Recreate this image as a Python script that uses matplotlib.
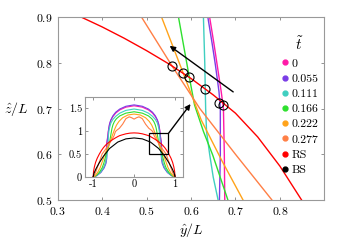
import numpy as np
import matplotlib; matplotlib.use("Agg"); import matplotlib.pyplot as plt
from matplotlib.lines import Line2D
from matplotlib.patches import Rectangle

plt.rcParams.update({"font.family": "serif", "font.serif": ["cmr10"], "mathtext.fontset": "cm",
                     "axes.formatter.use_mathtext": True, "axes.unicode_minus": False})

# right-half profiles (y/L, z/L)
t_labels = ["0", "0.055", "0.111", "0.166", "0.222", "0.277"]
t_colors = ["#ff1aa8", "#7a3ce6", "#3fcfc0", "#2ee02e", "#ffa31a", "#ff7f45"]
y_t0 = [0, 0.2, 0.35, 0.45, 0.52, 0.57, 0.60, 0.62, 0.633, 0.642, 0.652, 0.659, 0.668, 0.673, 0.675, 0.676, 0.68, 0.70, 0.74, 0.82, 0.92, 1.0]
z_t0 = [1.55, 1.52, 1.46, 1.39, 1.31, 1.23, 1.15, 1.06, 0.98, 0.90, 0.84, 0.795, 0.737, 0.70, 0.60, 0.50, 0.40, 0.30, 0.20, 0.10, 0.03, 0]
y_t1 = [0, 0.2, 0.35, 0.45, 0.52, 0.57, 0.60, 0.617, 0.630, 0.638, 0.648, 0.655, 0.663, 0.666, 0.666, 0.664, 0.668, 0.685, 0.73, 0.81, 0.91, 1.0]
z_t1 = [1.57, 1.54, 1.48, 1.41, 1.33, 1.24, 1.15, 1.06, 0.98, 0.90, 0.84, 0.795, 0.737, 0.70, 0.60, 0.50, 0.40, 0.30, 0.20, 0.10, 0.03, 0]
y_t2 = [0, 0.2, 0.35, 0.45, 0.52, 0.565, 0.595, 0.615, 0.628, 0.631, 0.633, 0.635, 0.642, 0.650, 0.661, 0.675, 0.70, 0.745, 0.82, 0.92, 1.0]
z_t2 = [1.48, 1.45, 1.39, 1.32, 1.25, 1.18, 1.09, 1.00, 0.90, 0.80, 0.70, 0.65, 0.60, 0.55, 0.50, 0.40, 0.30, 0.20, 0.10, 0.03, 0]
y_t3 = [0, 0.2, 0.35, 0.43, 0.48, 0.515, 0.54, 0.556, 0.572, 0.596, 0.608, 0.628, 0.649, 0.683, 0.71, 0.74, 0.78, 0.85, 0.93, 1.0]
z_t3 = [1.42, 1.39, 1.33, 1.27, 1.21, 1.14, 1.06, 0.98, 0.90, 0.77, 0.708, 0.65, 0.598, 0.50, 0.40, 0.30, 0.20, 0.10, 0.03, 0]
y_t4 = [0, 0.15, 0.28, 0.37, 0.43, 0.47, 0.50, 0.534, 0.582, 0.623, 0.670, 0.717, 0.75, 0.79, 0.83, 0.89, 0.95, 1.0]
z_t4 = [1.37, 1.35, 1.29, 1.21, 1.13, 1.05, 0.98, 0.90, 0.779, 0.675, 0.585, 0.50, 0.40, 0.30, 0.20, 0.10, 0.03, 0]
y_t5 = [0, 0.06, 0.12, 0.2, 0.28, 0.36, 0.42, 0.455, 0.475, 0.489, 0.557, 0.62, 0.70, 0.782, 0.82, 0.86, 0.90, 0.94, 0.98, 1.0]
z_t5 = [1.26, 1.29, 1.31, 1.27, 1.15, 1.06, 1.02, 0.99, 0.94, 0.90, 0.794, 0.70, 0.60, 0.50, 0.40, 0.30, 0.20, 0.10, 0.03, 0]
y_rs = [0, 0.1, 0.2, 0.3, 0.354, 0.40, 0.45, 0.50, 0.55, 0.60, 0.65, 0.70, 0.75, 0.80, 0.85, 0.90, 0.94, 0.97, 0.99, 1.0]
z_rs = [0.96, 0.955, 0.94, 0.915, 0.90, 0.879, 0.854, 0.827, 0.798, 0.766, 0.730, 0.690, 0.638, 0.574, 0.498, 0.41, 0.32, 0.22, 0.12, 0]
y_bs = [0, 0.2, 0.4, 0.6, 0.75, 0.85, 0.93, 0.98, 1.0]
z_bs = [0.85, 0.83, 0.76, 0.62, 0.45, 0.31, 0.18, 0.08, 0]
# crossings with RS
y_cross = [0.557, 0.582, 0.596, 0.631, 0.664, 0.673]
z_cross = [0.794, 0.779, 0.770, 0.742, 0.713, 0.707]

profiles = [(y_t0, z_t0), (y_t1, z_t1), (y_t2, z_t2), (y_t3, z_t3), (y_t4, z_t4), (y_t5, z_t5)]

def full(y, z):
    y = np.array(y); z = np.array(z)
    return np.concatenate([-y[::-1], y]), np.concatenate([z[::-1], z])

fig = plt.figure(figsize=(3.6, 2.4), dpi=100)
ax = fig.add_axes([0.16, 0.167, 0.741, 0.761])
for (y, z), c in zip(profiles, t_colors):
    ax.plot(*full(y, z), color=c, lw=1.0)
ax.plot(*full(y_rs, z_rs), color="red", lw=1.0)
ax.plot(y_cross, z_cross, "o", mfc="none", mec="k", ms=6.5, mew=0.8)
ax.annotate("", xy=(0.547, 0.841), xytext=(0.70, 0.733),
            arrowprops=dict(arrowstyle="-|>", color="k", lw=1.0, mutation_scale=8))
ax.set_xlim(0.3, 0.9); ax.set_ylim(0.5, 0.9)
ax.set_xticks([0.3, 0.4, 0.5, 0.6, 0.7, 0.8]); ax.set_yticks([0.5, 0.6, 0.7, 0.8, 0.9])
ax.tick_params(direction="in", length=2.5, width=0.6, color="0.5", labelsize=8.5, top=True, right=True)
for sp in ax.spines.values(): sp.set_color("0.6"); sp.set_linewidth(0.8)
ax.set_xlabel(r"$\hat{y}/L$", fontsize=10, labelpad=3)
ax.set_ylabel(r"$\hat{z}/L$", fontsize=10, rotation=0, labelpad=14, va="center")

handles = [Line2D([], [], ls="none", marker="o", ms=3.5, color=c) for c in t_colors + ["red", "k"]]
leg = ax.legend(handles, t_labels + ["RS", "BS"], title=r"$\tilde{t}$", loc="upper right",
                bbox_to_anchor=(1.01, 0.945), frameon=False, fontsize=8.5, title_fontsize=11,
                handletextpad=0.1, handlelength=1.0, labelspacing=0.42, borderaxespad=0.3)

axin = fig.add_axes([0.236, 0.2625, 0.273, 0.335])
for (y, z), c in zip(profiles, t_colors):
    axin.plot(*full(y, z), color=c, lw=0.8)
axin.plot(*full(y_rs, z_rs), color="red", lw=0.8)
axin.plot(*full(y_bs, z_bs), color="k", lw=0.8)
axin.add_patch(Rectangle((0.37, 0.5), 0.47, 0.45, fill=False, ec="k", lw=0.9, zorder=5))
axin.annotate("", xy=(0.599, 0.71), xycoords=ax.transData, xytext=(0.84, 0.95), textcoords="data",
              annotation_clip=False, arrowprops=dict(arrowstyle="-|>", color="k", lw=1.0, mutation_scale=8,
                                                      shrinkA=0, shrinkB=0))
axin.set_xlim(-1.2, 1.2); axin.set_ylim(0, 1.75)
axin.set_xticks([-1, 0, 1]); axin.set_yticks([0, 0.5, 1, 1.5])
axin.set_xticklabels(["-1", "0", "1"]); axin.set_yticklabels(["0", "0.5", "1", "1.5"])
axin.tick_params(direction="in", length=2, width=0.6, color="0.5", labelsize=7.5, top=True, right=True, pad=2)
for sp in axin.spines.values(): sp.set_color("0.6"); sp.set_linewidth(0.8)

fig.savefig("out.png", dpi=100)
